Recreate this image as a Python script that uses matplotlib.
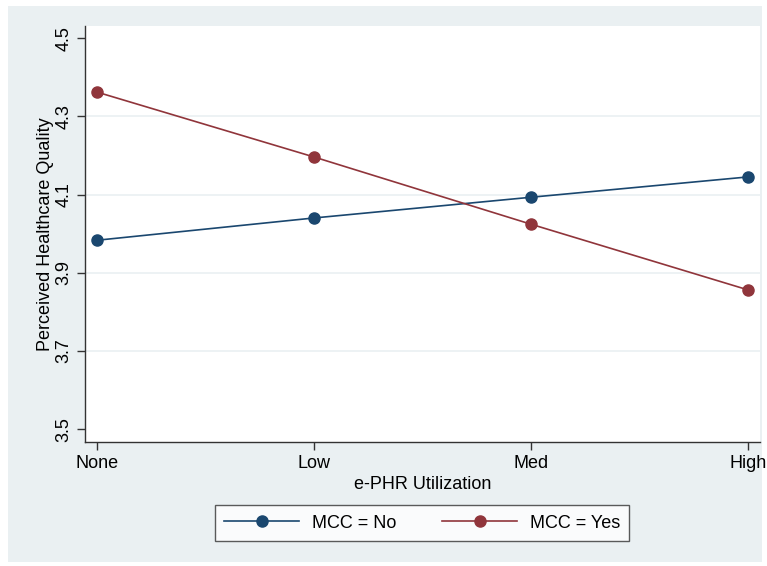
import numpy as np
import matplotlib.pyplot as plt
from matplotlib.patches import Rectangle

# values
levels = ["None", "Low", "Med", "High"]
mcc_no = [3.983, 4.040, 4.093, 4.145]
mcc_yes = [4.362, 4.196, 4.024, 3.856]
y_ticks = [3.5, 3.7, 3.9, 4.1, 4.3, 4.5]

blue = "#1A476F"
red = "#90353B"
bg = "#EAF0F2"

plt.rcParams['font.family'] = ['Liberation Sans', 'DejaVu Sans']

fig = plt.figure(figsize=(7.67, 5.66), dpi=100)
fig.patch.set_facecolor("white")
# Stata-style outer panel
fig.patches.append(Rectangle((8 / 767, 1 - 562 / 566), 754 / 767, 556 / 566,
                             transform=fig.transFigure, facecolor=bg,
                             edgecolor="none", zorder=-1))

ax = fig.add_axes([85 / 767, 1 - 442 / 566, 675 / 767, 416 / 566])
ax.set_facecolor("white")

x = np.arange(len(levels))
ax.plot(x, mcc_no, color=blue, lw=1.2, marker="o", ms=8, label="MCC = No", zorder=3)
ax.plot(x, mcc_yes, color=red, lw=1.2, marker="o", ms=8, label="MCC = Yes", zorder=3)

ax.set_xlim(-0.055, 3.055)
ax.set_ylim(3.467, 4.531)
ax.set_xticks(x)
ax.set_xticklabels(levels, fontsize=13)
ax.set_yticks(y_ticks)
ax.set_yticklabels([f"{v:.1f}" for v in y_ticks], fontsize=13, rotation=90, va="center")
for v in y_ticks[1:-1]:
    ax.axhline(v, color=bg, lw=1.2, zorder=1)

for s in ["top", "right"]:
    ax.spines[s].set_visible(False)
for s in ["left", "bottom"]:
    ax.spines[s].set_color("#333333")
    ax.spines[s].set_linewidth(1.0)
ax.tick_params(direction="out", length=6, width=1, color="#333333", pad=3)

ax.set_xlabel("e-PHR Utilization", fontsize=13, labelpad=3)
ax.set_ylabel("Perceived Healthcare Quality", fontsize=13, labelpad=1)

leg = fig.legend(loc="center", bbox_to_anchor=(422 / 767, 1 - 523 / 566), ncol=2,
                 fontsize=13, frameon=True, fancybox=False, edgecolor="#333333",
                 handlelength=4.2, columnspacing=2.5, handletextpad=0.7,
                 borderpad=0.5, markerscale=1.0)
leg.get_frame().set_linewidth(1.0)

fig.savefig("out.png", dpi=100, facecolor=fig.get_facecolor())
